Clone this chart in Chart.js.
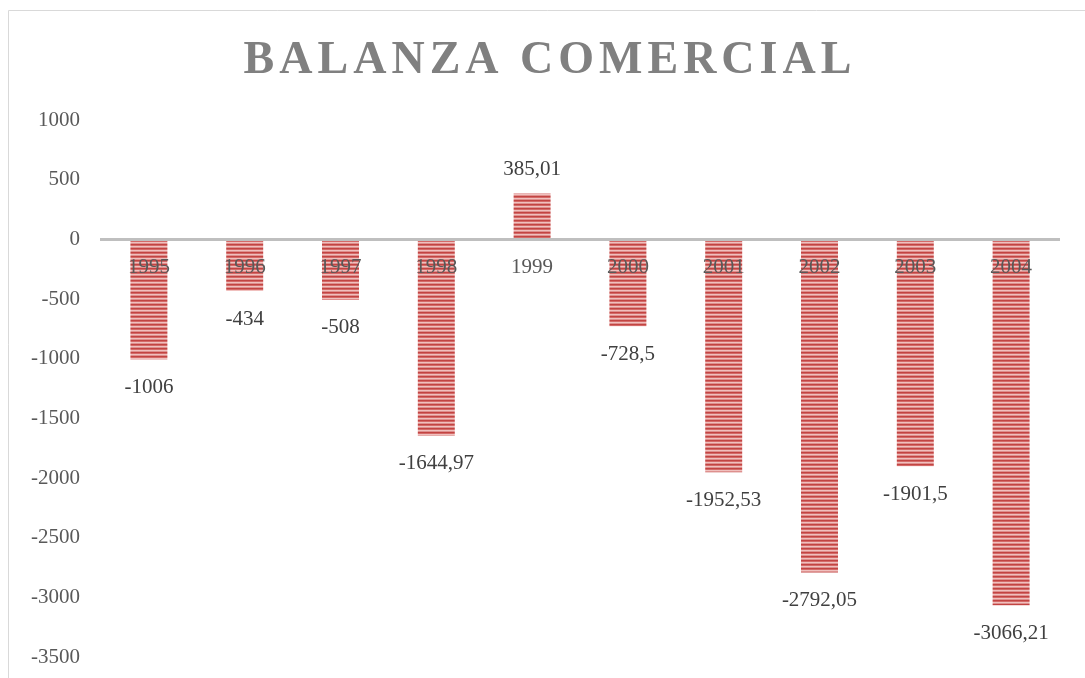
<!DOCTYPE html>
<html>
<head>
<meta charset="utf-8">
<script src="https://cdn.jsdelivr.net/npm/chart.js@4/dist/chart.umd.min.js"></script>
<style>
  html, body { margin: 0; padding: 0; background: #fff; overflow: hidden; }
  #wrap { position: relative; width: 1085px; height: 678px; }
</style>
</head>
<body>
<div id="wrap"><canvas id="chart" width="1085" height="678"></canvas></div>
<script>
const years = ['1995', '1996', '1997', '1998', '1999', '2000', '2001', '2002', '2003', '2004'];
const balance = [-1006, -434, -508, -1644.97, 385.01, -728.5, -1952.53, -2792.05, -1901.5, -3066.21];
const yTicks = { min: -3500, max: 1000, step: 500 };
const titleText = 'BALANZA COMERCIAL';

// striped fill like the original
function stripes() {
	const c = document.createElement('canvas');
	c.width = 4; c.height = 4;
	const g = c.getContext('2d');
	g.fillStyle = 'rgb(194,68,66)'; g.fillRect(0, 0, 4, 1);
	g.fillStyle = 'rgb(212,106,104)'; g.fillRect(0, 1, 4, 1);
	g.fillStyle = 'rgb(240,192,190)'; g.fillRect(0, 2, 4, 1);
	g.fillStyle = 'rgb(222,144,142)'; g.fillRect(0, 3, 4, 1);
	return g.createPattern(c, 'repeat');
}

const serif = '"Liberation Serif", "Times New Roman", serif';

const frameAndTitle = {
	id: 'frameAndTitle',
	beforeDraw(chart) {
		const ctx = chart.ctx;
		ctx.save();
		ctx.strokeStyle = '#d9d9d9';
		ctx.lineWidth = 1;
		ctx.beginPath();
		ctx.moveTo(8.5, 700);
		ctx.lineTo(8.5, 10.5);
		ctx.lineTo(1100, 10.5);
		ctx.stroke();
		ctx.fillStyle = '#808080';
		ctx.font = 'bold 46px ' + serif;
		ctx.letterSpacing = '5px';
		ctx.textAlign = 'center';
		ctx.textBaseline = 'middle';
		ctx.fillText(titleText, 550, 61);
		ctx.restore();
	},
	afterDatasetsDraw(chart) {
		const ctx = chart.ctx;
		const meta = chart.getDatasetMeta(0);
		ctx.save();
		ctx.fillStyle = '#404040';
		ctx.font = '21px ' + serif;
		ctx.textAlign = 'center';
		ctx.textBaseline = 'middle';
		meta.data.forEach((bar, i) => {
			const v = balance[i];
			const y = v < 0 ? bar.y + 28 : bar.y - 24;
			ctx.fillText(String(v).replace('.', ','), bar.x, y);
		});
		ctx.restore();
	}
};

new Chart(document.getElementById('chart'), {
	type: 'bar',
	data: {
		labels: years,
		datasets: [{
			data: balance,
			backgroundColor: stripes(),
			borderWidth: 0,
			barPercentage: 0.386,
			categoryPercentage: 1
		}]
	},
	options: {
		responsive: false,
		animation: false,
		events: [],
		layout: { padding: { top: 120, right: 26, bottom: 21, left: 0 } },
		plugins: {
			legend: { display: false },
			title: { display: false },
			tooltip: { enabled: false }
		},
		scales: {
			x: {
				position: { y: 0 },
				grid: { display: false, drawTicks: false },
				border: { display: true, color: '#bfbfbf', width: 3, z: 1 },
				afterFit(scale) { scale.height = 0; },
				ticks: {
					z: 1,
					color: '#595959',
					font: { family: serif, size: 21 },
					padding: 16,
					maxRotation: 0
				}
			},
			y: {
				min: yTicks.min,
				max: yTicks.max,
				grid: { display: false, drawTicks: false },
				border: { display: false },
				afterFit(scale) {
					scale.width = 101;
					scale.paddingTop = 12;
					scale.paddingBottom = 12;
				},
				ticks: {
					stepSize: yTicks.step,
					color: '#595959',
					font: { family: serif, size: 21 },
					padding: 21,
					callback: v => String(v)
				}
			}
		}
	},
	plugins: [frameAndTitle]
});
</script>
</body>
</html>
